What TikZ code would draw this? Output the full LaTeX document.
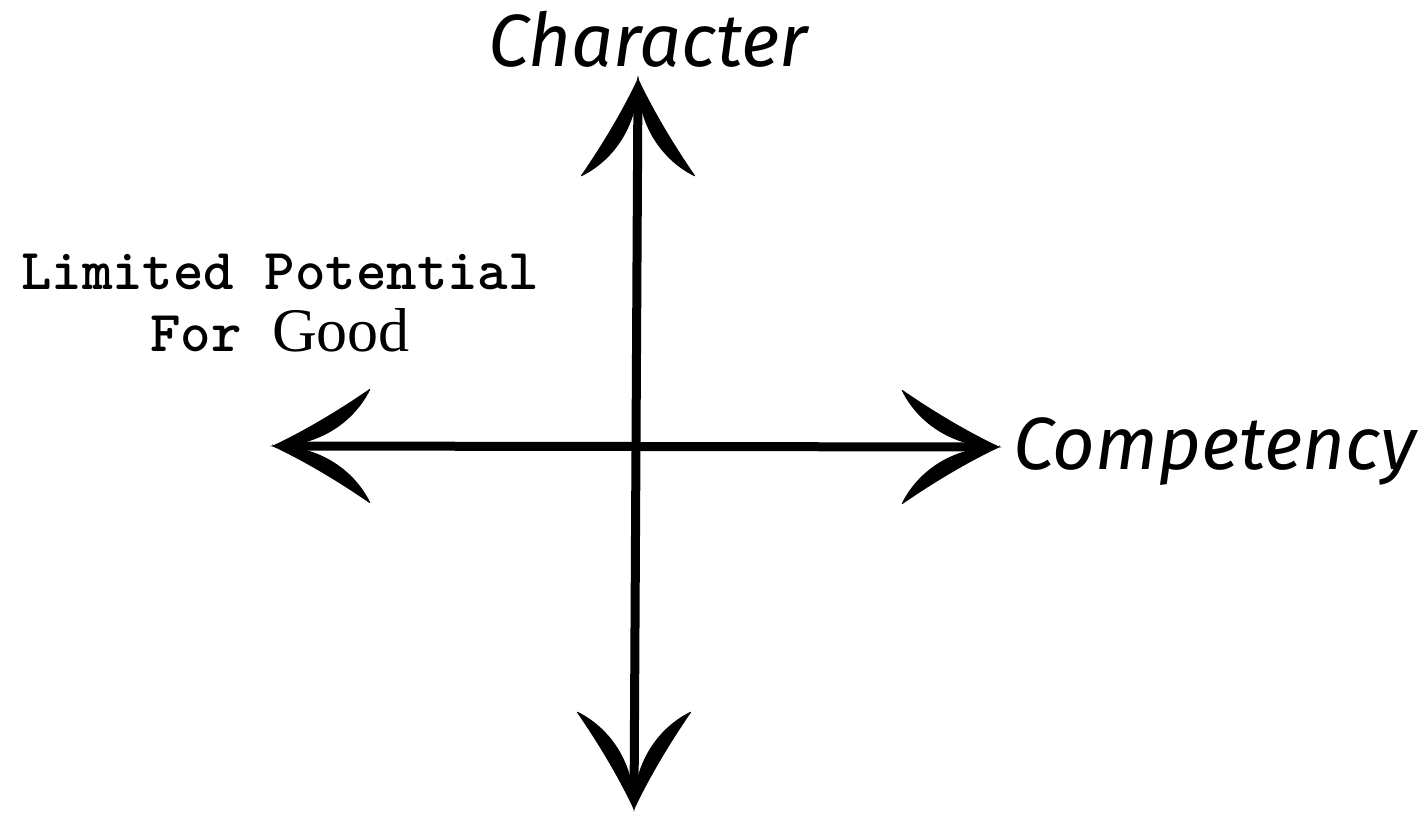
\documentclass[tikz,border=0pt]{standalone}
\usepackage{fontspec}
\newfontfamily\hand{Fira Sans}
\newfontfamily\goodfont{Liberation Serif}
\begin{document}
\begin{tikzpicture}[x=1pt,y=1pt,
  shaft/.style={line width=9pt},
  handlabel/.style={font=\hand\itshape\fontsize{74}{80}\selectfont, inner sep=0pt},
  typelabel/.style={font=\ttfamily\bfseries\fontsize{58}{62}\selectfont, align=center, inner sep=0pt},
  pics/arrowhead/.style={code={
    \fill[rounded corners=2pt] (0,0) .. controls (-42,-1) and (-80,20) .. (-99,58) .. controls (-70,38) and (-36,17) .. (0,0) -- cycle;
    \fill[rounded corners=2pt] (0,0) .. controls (-42,1) and (-80,-20) .. (-99,-58) .. controls (-70,-38) and (-36,-17) .. (0,0) -- cycle;
    \fill (2,0) -- (-24,5) -- (-24,-5) -- cycle;
  }}]
\useasboundingbox (0,0) rectangle (1425,815);
\coordinate (top) at (638,737);
\coordinate (bottom) at (634,5);
\coordinate (left) at (272,369);
\coordinate (right) at (1000,368);
\draw[shaft, shorten <=20pt, shorten >=20pt] (top) -- (bottom);
\draw[shaft, shorten <=20pt, shorten >=20pt] (left) -- (right);
\pic[rotate=90] at (top) {arrowhead};
\pic[rotate=-90] at (bottom) {arrowhead};
\pic[rotate=180] at (left) {arrowhead};
\pic at (right) {arrowhead};
\node[handlabel, anchor=base] (charlab) at (648,748) {Character};
\node[handlabel, anchor=base west] (complab) at (1013,345) {Competency};
\node[typelabel] (limlab) at (280,512) {Limited Potential\\For {\goodfont\mdseries\fontsize{62}{62}\selectfont Good}};
\end{tikzpicture}
\end{document}
